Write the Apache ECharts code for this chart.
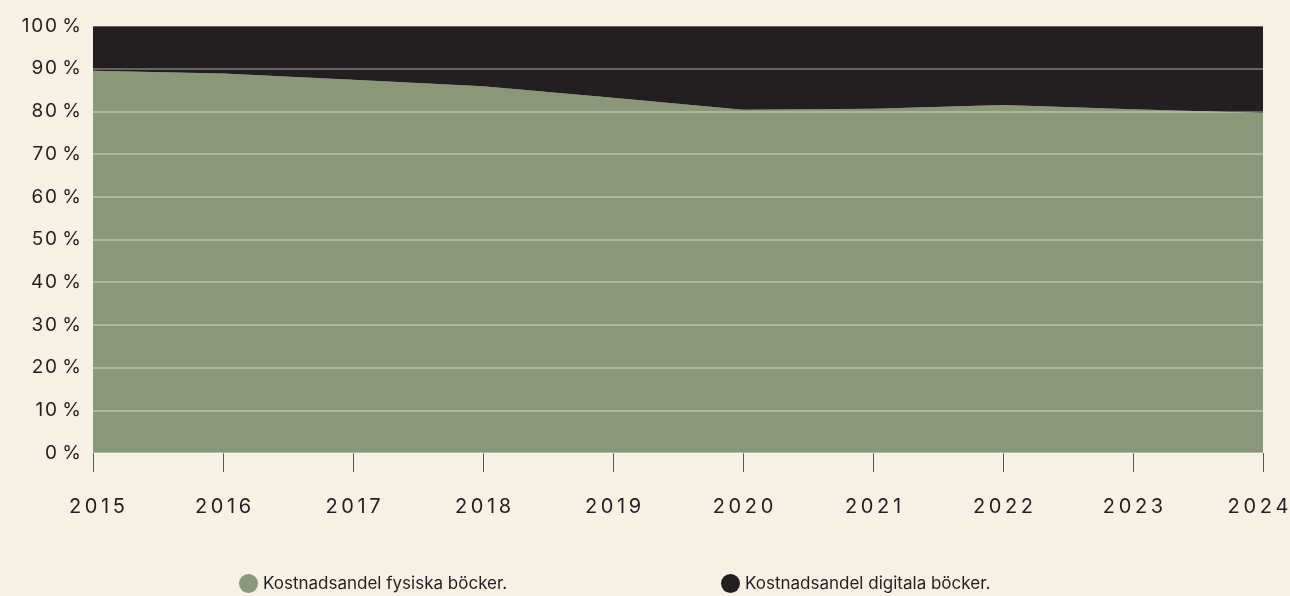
<!DOCTYPE html>
<html>
<head>
<meta charset="utf-8">
<script src="https://cdn.jsdelivr.net/npm/echarts@6/dist/echarts.min.js"></script>
<style>
  html, body { margin: 0; padding: 0; background: #f6f0e5; }
  #chart { width: 1290px; height: 596px; }
</style>
</head>
<body>
<div id="chart"></div>
<script>
var years = ['2015', '2016', '2017', '2018', '2019', '2020', '2021', '2022', '2023', '2024'];
var fysiska = [89.5, 88.9, 87.4, 85.9, 83.2, 80.4, 80.6, 81.5, 80.5, 79.6];
var digitala = [10.5, 11.1, 12.6, 14.1, 16.8, 19.6, 19.4, 18.5, 19.5, 20.4];
var yTicks = [0, 10, 20, 30, 40, 50, 60, 70, 80, 90, 100];

var font = 'Inter';
var ink = '#231f20';

function spaced(s, sep) {
  return String(s).split('').join(sep);
}

// nudge first/last year label inward a little, like the original
var yearData = years.map(function (y, i) {
  if (i === 0) return { value: y, textStyle: { padding: [0, 0, 0, 8] } };
  if (i === years.length - 1) return { value: y, textStyle: { padding: [0, 10, 0, 0] } };
  return y;
});

var myChart = echarts.init(document.getElementById('chart'));

myChart.setOption({
  backgroundColor: '#f6f0e5',
  animation: false,
  grid: { left: 93, right: 27, top: 26, bottom: 143, outerBoundsMode: 'none', containLabel: false },
  legend: [
    {
      data: ['Kostnadsandel fysiska böcker.'],
      left: 234, top: 569,
      icon: 'circle', itemWidth: 19, itemHeight: 19, itemGap: 8,
      textStyle: { color: ink, fontSize: 17, fontFamily: font }
    },
    {
      data: ['Kostnadsandel digitala böcker.'],
      left: 716, top: 569,
      icon: 'circle', itemWidth: 19, itemHeight: 19,
      textStyle: { color: ink, fontSize: 17, fontFamily: font }
    }
  ],
  xAxis: {
    type: 'category',
    data: yearData,
    boundaryGap: false,
    axisLine: { show: false },
    axisTick: { show: true, length: 19, lineStyle: { color: '#555', width: 1 } },
    axisLabel: {
      color: ink, fontSize: 20, fontFamily: font, margin: 44,
      formatter: function (v) { return spaced(v, '\u2009'); }
    },
    splitLine: { show: false }
  },
  yAxis: {
    type: 'value',
    min: 0, max: 100, interval: 10,
    z: 5,
    axisLine: { show: false },
    axisTick: { show: false },
    axisLabel: {
      color: ink, fontSize: 19, fontFamily: font, margin: 12,
      formatter: function (v) { return yTicks.indexOf(v) >= 0 ? spaced(v, '\u200A') + ' %' : ''; }
    },
    splitLine: { show: true, lineStyle: { color: 'rgba(255,255,255,0.3)', width: 2 } }
  },
  series: [
    {
      name: 'Kostnadsandel fysiska böcker.',
      type: 'line',
      stack: 'total',
      data: fysiska,
      symbol: 'none',
      lineStyle: { width: 0 },
      itemStyle: { color: '#8a9778' },
      areaStyle: { color: '#8a9778', opacity: 1 }
    },
    {
      name: 'Kostnadsandel digitala böcker.',
      type: 'line',
      stack: 'total',
      data: digitala,
      symbol: 'none',
      lineStyle: { width: 0 },
      itemStyle: { color: ink },
      areaStyle: { color: ink, opacity: 1 }
    }
  ]
});

window.addEventListener('resize', function () { myChart.resize(); });
</script>
</body>
</html>
